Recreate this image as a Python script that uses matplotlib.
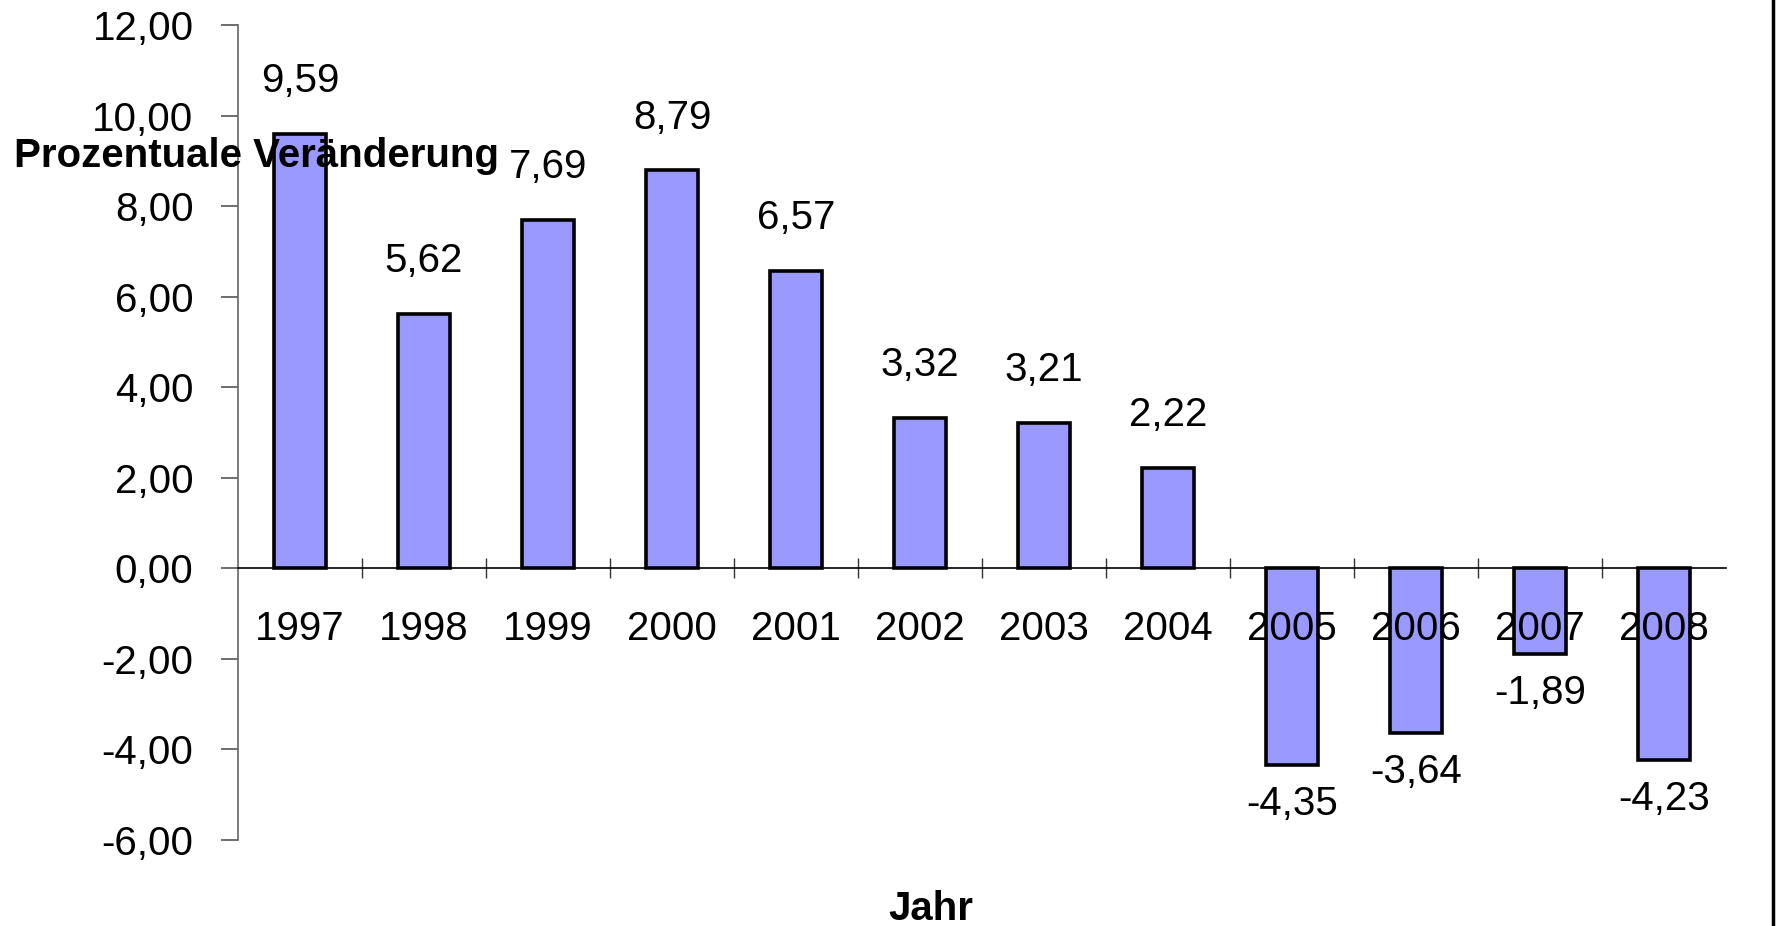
import matplotlib.pyplot as plt
from matplotlib.ticker import FuncFormatter, FixedLocator

years = ['1997', '1998', '1999', '2000', '2001', '2002',
         '2003', '2004', '2005', '2006', '2007', '2008']
changes = [9.59, 5.62, 7.69, 8.79, 6.57, 3.32,
           3.21, 2.22, -4.35, -3.64, -1.89, -4.23]

plt.rcParams['font.family'] = ['Liberation Sans', 'DejaVu Sans']

fig = plt.figure(figsize=(17.8, 9.26), dpi=100)
ax = fig.add_axes([0.1337, 0.0929, 0.836, 0.880])

pos = list(range(len(years)))

# Balken
ax.bar(pos, changes, width=0.42, color='#9999FF', edgecolor='black',
       linewidth=2.6, zorder=1)

# Werte an den Balken
for x, v in zip(pos, changes):
    txt = f'{v:.2f}'.replace('.', ',')
    if v >= 0:
        ax.annotate(txt, (x, v), xytext=(0, 38), textcoords='offset points',
                    ha='center', va='center', fontsize=29)
    else:
        ax.annotate(txt, (x, v), xytext=(0, -28), textcoords='offset points',
                    ha='center', va='center', fontsize=29)

# Achsen
ax.set_xlim(-0.5, len(years) - 0.5)
ax.set_ylim(-6, 12)
ax.set_yticks(range(-6, 13, 2))
ax.yaxis.set_major_formatter(FuncFormatter(lambda y, p: f'{y:.2f}'.replace('.', ',')))
ax.tick_params(axis='y', labelsize=29, length=12, width=1.2, color='#555555',
               direction='out', pad=20)

ax.spines['top'].set_visible(False)
ax.spines['right'].set_visible(False)
ax.spines['left'].set_color('#666666')
ax.spines['left'].set_linewidth(1.2)
ax.spines['bottom'].set_position(('data', 0))
ax.spines['bottom'].set_linewidth(1.2)

ax.set_xticks(pos)
ax.set_xticklabels(years)
ax.tick_params(axis='x', which='major', length=0, labelsize=29, pad=30)
ax.xaxis.set_minor_locator(FixedLocator([p + 0.5 for p in pos[:-1]]))
ax.tick_params(axis='x', which='minor', length=14, width=1.0,
               direction='inout', color='#333333')
for lbl in ax.get_xticklabels():
    lbl.set_zorder(5)

# Titel der Achsen
fig.text(0.008, 0.832, 'Prozentuale Veränderung', fontsize=29,
         fontweight='bold', ha='left', va='center')
fig.text(0.523, 0.018, 'Jahr', fontsize=29, fontweight='bold',
         ha='center', va='center')

# Rand rechts
fig.add_artist(plt.Line2D([0.996, 0.996], [0, 1], color='black', linewidth=2.5))

plt.savefig('out.png', dpi=100)
